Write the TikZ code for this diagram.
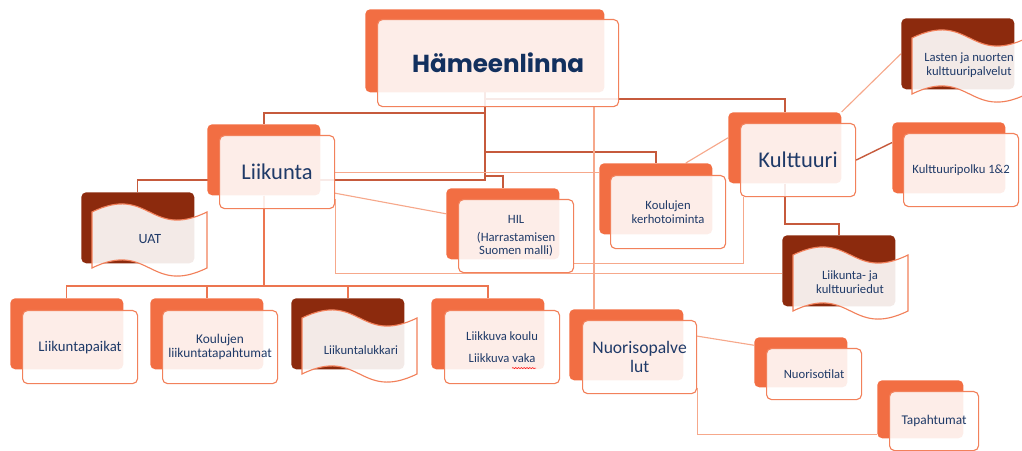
\documentclass[tikz,border=0pt]{standalone}
\usepackage{fontspec}
\setmainfont{Carlito}
\newfontfamily\titlefont{Poppins}
\usepackage{tikz}
\usepackage{xcolor}
\usetikzlibrary{backgrounds,decorations.pathmorphing}

\definecolor{cardorange}{HTML}{F26E43}
\definecolor{carddark}{HTML}{8C2A0D}
\definecolor{cardline}{HTML}{F2815B}
\definecolor{cardtext}{HTML}{1F3A68}
\definecolor{titletext}{HTML}{12305E}
\definecolor{linkdark}{HTML}{C65A3C}
\definecolor{linkmid}{HTML}{EC7550}
\definecolor{linklight}{HTML}{F6A88B}

\tikzset{
	backbox/.style={rectangle, rounded corners=3.5pt, fill=cardorange, minimum width=2.825cm, minimum height=1.775cm, inner sep=0pt, anchor=north west},
	darkbox/.style={backbox, fill=carddark},
	frontbox/.style={rectangle, rounded corners=3.5pt, draw=cardline, line width=0.8pt, fill=white, fill opacity=0.88, text opacity=1, text=cardtext, minimum width=2.875cm, minimum height=1.825cm, inner sep=1pt, align=center, anchor=north west},
	wavetext/.style={text=cardtext, align=center, font=\fontsize{9}{9.6}\selectfont},
	smalltext/.style={font=\fontsize{9}{9.6}\selectfont},
	bigtext/.style={font=\fontsize{16}{19}\selectfont},
	darkline/.style={draw=linkdark, line width=1pt},
	midline/.style={draw=linkmid, line width=1pt},
	lightline/.style={draw=linklight, line width=0.8pt},
	spellmark/.style={draw=red, line width=0.4pt, decorate, decoration={snake, amplitude=0.35pt, segment length=2pt}},
	wavefront/.pic={
		\path[draw=cardline, line width=0.8pt, fill=white, fill opacity=0.9]
			(11,20) .. controls (68.5,-8) and (68.5,48) .. (126,20) -- (126,76)
			.. controls (68.5,104) and (68.5,48) .. (11,76) -- cycle;
	}
}

\begin{document}
\begin{tikzpicture}[x=0.025cm, y=-0.025cm]
			\useasboundingbox (0,0) rectangle (1022,451);
			
			\node[backbox, minimum width=5.975cm, minimum height=2.075cm] (hame-b) at (365,9) {};
			\node[frontbox, minimum width=6.025cm, minimum height=2.175cm, text=titletext, font=\titlefont\bfseries\fontsize{17.5}{21}\selectfont] (hame) at (377,19) {Hämeenlinna};
			
			\node[backbox] (liik-b) at (207,124) {};
			\node[frontbox, bigtext] (liik) at (219,135) {Liikunta};
			
			\node[darkbox] (uat-b) at (81,192) {};
			\pic at (uat-b.north west) {wavefront};
			\node[wavetext, font=\fontsize{10}{12}\selectfont] (uat) at (150,239) {UAT};
			
			\node[backbox] (hil-b) at (446,188) {};
			\node[frontbox, smalltext] (hil) at (458,199) {HIL\\[2.8pt](Harrastamisen\\Suomen malli)};
			
			\node[backbox] (kerho-b) at (599,163) {};
			\node[frontbox, smalltext] (kerho) at (610,175) {Koulujen\\kerhotoiminta};
			
			\node[backbox] (kult-b) at (728,112) {};
			\node[frontbox, bigtext] (kult) at (740,123) {Kulttuuri};
			
			\node[backbox] (polku-b) at (892,122) {};
			\node[frontbox, smalltext] (polku) at (903,133) {Kulttuuripolku 1\&2};
			
			\node[darkbox] (edut-b) at (782,235) {};
			\pic at (edut-b.north west) {wavefront};
			\node[wavetext] (edut) at (850,282) {Liikunta- ja\\kulttuuriedut};
			
			\node[darkbox] (lasten-b) at (901,18) {};
			\pic at (lasten-b.north west) {wavefront};
			\node[wavetext] (lasten) at (969,65) {Lasten ja nuorten\\kulttuuripalvelut};
			
			\node[backbox] (paik-b) at (10,298) {};
			\node[frontbox, font=\fontsize{10.5}{12}\selectfont] (paik) at (22,310) {Liikuntapaikat};
			
			\node[backbox] (kliik-b) at (150,298) {};
			\node[frontbox, font=\fontsize{9.5}{10}\selectfont] (kliik) at (162,310) {Koulujen\\liikuntatapahtumat};
			
			\node[darkbox] (lukk-b) at (291,298) {};
			\pic at (lukk-b.north west) {wavefront};
			\node[wavetext] (lukk) at (361,350) {Liikuntalukkari};
			
			\node[backbox] (liikk-b) at (431,298) {};
			\node[frontbox, font=\fontsize{9}{11}\selectfont] (liikk) at (444,310) {Liikkuva koulu\\[5pt]Liikkuva vaka};
			\draw[spellmark] ([shift={(10,21)}]liikk.center) -- ([shift={(34,21)}]liikk.center);
			
			\node[backbox, minimum width=2.85cm] (nuo-b) at (569,309) {};
			\node[frontbox, minimum width=2.85cm, font=\fontsize{12.5}{13.5}\selectfont] (nuo) at (582,320) {Nuorisopalve\\lut};
			
			\node[backbox, minimum width=2.325cm, minimum height=1.25cm] (tilat-b) at (754,337) {};
			\node[frontbox, minimum width=2.375cm, minimum height=1.275cm, smalltext] (tilat) at (766,348) {Nuorisotilat};
			
			\node[backbox, minimum width=2.15cm, minimum height=1.45cm] (tapaht-b) at (877,380) {};
			\node[frontbox, minimum width=2.225cm, minimum height=1.475cm, font=\fontsize{9.5}{11}\selectfont] (tapaht) at (889,391) {Tapahtumat};
			
			\begin{scope}[on background layer]
				\coordinate (hub) at (485,60);
				\draw[darkline] (hub) |- ([shift={(0,-11)}]liik-b.north) -- (liik-b.north);
				\draw[darkline] (hub) |- ([shift={(0,-12)}]uat-b.north) -- (uat-b.north);
				\draw[darkline] (hub) |- ([shift={(0,-12)}]hil-b.north) -- (hil-b.north);
				\draw[darkline] (hub) |- ([shift={(0,-11)}]kerho-b.north) -- (kerho-b.north);
				\draw[darkline] (hub) |- ([shift={(0,-13)}]kult-b.north) -- (kult-b.north);
				\coordinate (nuo-in) at ([shift={(25,0)}]nuo-b.north west);
				\draw[lightline] (nuo-in |- hame.south) -- (nuo-in);
				
				\foreach \n in {paik,kliik,lukk,liikk}
					\draw[midline] (liik-b.south) |- ([shift={(0,-12)}]\n-b.north) -- (\n-b.north);
				\draw[lightline] (liik.east) -- (liik.east -| kerho-b.west);
				\draw[lightline] (liik.-20) -- (hil-b.170);
				\draw[lightline] (liik.-25) |- ([shift={(0,3)}]edut-b.west);
				\draw[lightline] (hil.-25) -| (kult.-146);
				
				\draw[lightline] (kult-b.170) -- (kerho-b.50);
				\draw[lightline] (kult-b.north east) -- (lasten-b.west);
				\draw[darkline] (kult.east) -- (polku-b.165);
				\draw[darkline] (kult-b.south) |- ([shift={(0,-11)}]edut-b.north) -- (edut-b.north);
				
				\draw[lightline] (nuo.20) -- (tilat-b.160);
				\draw[lightline] (nuo.-28) |- (tapaht-b.210);
			\end{scope}
\end{tikzpicture}
\end{document}
